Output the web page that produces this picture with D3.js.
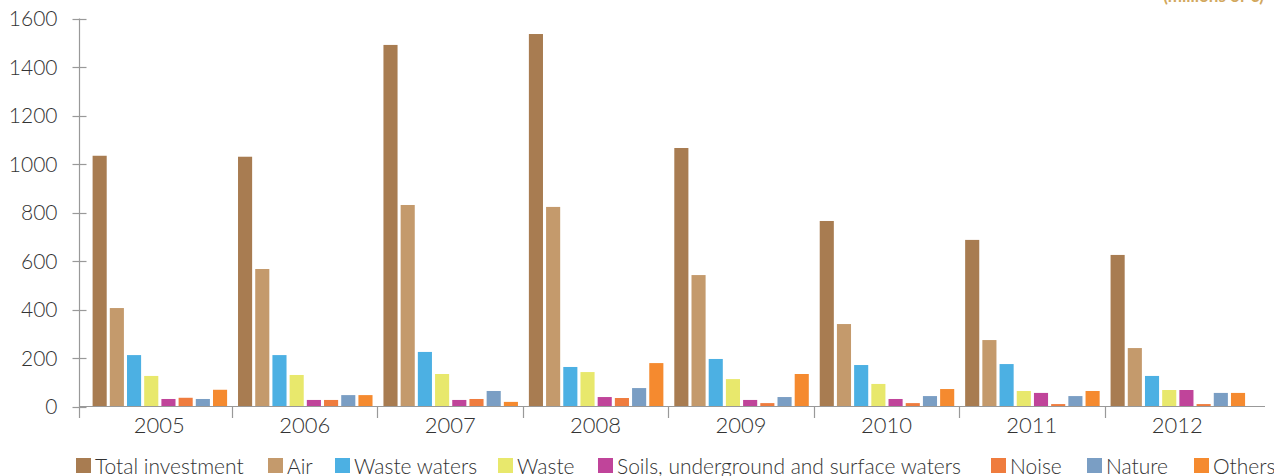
<!DOCTYPE html>
<html><head><meta charset="utf-8">
<script src="https://cdn.jsdelivr.net/npm/d3@7"></script>
<style>
body{margin:0;background:#fff;}
svg text{font-family:Lato,"Open Sans",sans-serif;font-weight:300;}
</style></head>
<body><svg id="c" width="1274" height="476"></svg>
<script>
const years = ["2005","2006","2007","2008","2009","2010","2011","2012"];
const seriesNames = ["Total investment","Air","Waste waters","Waste","Soils, underground and surface waters","Noise","Nature","Others"];
const colors = ["#a87c51","#c49a6c","#4cb0e3","#e8e86c","#c0449a","#ef7c3e","#7a9ec4","#f58a2f"];
const totalInvestment = [1034,1030,1491,1536,1066,765,687,625];
const air = [406,567,831,823,542,340,274,241];
const wasteWaters = [212,212,225,163,196,171,175,126];
const waste = [126,130,134,142,113,93,64,68];
const soils = [31,27,27,39,27,31,56,68];
const noise = [36,27,31,35,14,14,10,10];
const nature = [31,47,64,76,39,43,43,56];
const others = [69,47,19,179,134,72,64,56];
const yTicks = [0,200,400,600,800,1000,1200,1400,1600];
const unitLabel = "(millions of €)";

const series = [totalInvestment,air,wasteWaters,waste,soils,noise,nature,others];
const svg = d3.select("#c");

const y = d3.scaleLinear().domain([0,1600]).range([406.5,18.5]);
const x0 = d3.scaleBand().domain(years).range([86.6,1250]).paddingInner(0).paddingOuter(0);
const x1 = d3.scaleBand().domain(d3.range(series.length)).range([6,140.5]).paddingInner(0.18).paddingOuter(0);

// bars
const g = svg.append("g");
years.forEach((yr,i)=>{
  const gg = g.append("g").attr("transform",`translate(${x0(yr)},0)`);
  gg.selectAll("rect").data(series.map((s,k)=>({k,v:s[i]}))).join("rect")
    .attr("x",d=>x1(d.k)).attr("width",x1.bandwidth())
    .attr("y",d=>y(d.v)).attr("height",d=>y(0)-y(d.v))
    .attr("fill",d=>colors[d.k]);
});

// y axis
const ya = svg.append("g").attr("transform","translate(79.5,0)");
ya.append("line").attr("x1",0).attr("x2",0).attr("y1",y(1600)).attr("y2",418).attr("stroke","#999").attr("stroke-width",1.2);
ya.selectAll("line.t").data(yTicks).join("line").attr("class","t")
  .attr("x1",-7).attr("x2",7).attr("y1",d=>Math.round(y(d))+0.5).attr("y2",d=>Math.round(y(d))+0.5)
  .attr("stroke","#999").attr("stroke-width",1.2);
ya.selectAll("text").data(yTicks).join("text")
  .attr("x",-22).attr("y",d=>y(d)).attr("dy","0.36em").attr("text-anchor","end")
  .attr("font-size",21).attr("fill","#333").text(d=>d);

// x axis
const xa = svg.append("g");
xa.append("line").attr("x1",79).attr("x2",1265).attr("y1",406.5).attr("y2",406.5).attr("stroke","#999").attr("stroke-width",1.2);
xa.selectAll("line.t").data(years.slice(1)).join("line").attr("class","t")
  .attr("x1",d=>Math.round(x0(d))+0.5).attr("x2",d=>Math.round(x0(d))+0.5).attr("y1",406.5).attr("y2",418)
  .attr("stroke","#999").attr("stroke-width",1.2);
xa.selectAll("text").data(years).join("text")
  .attr("x",d=>x0(d)+x0.bandwidth()/2).attr("y",433).attr("text-anchor","middle")
  .attr("font-size",22).attr("fill","#333").text(d=>d);

// unit label (clipped at top, as in the reference)
svg.append("text").attr("x",1264).attr("y",2).attr("text-anchor","end")
  .attr("font-size",17).attr("fill","#d2a85e").style("font-weight",700).text(unitLabel);

// legend
const legX = [76,268,335,498,598,991,1087,1194];
const lg = svg.append("g");
seriesNames.forEach((n,k)=>{
  lg.append("rect").attr("x",legX[k]).attr("y",458).attr("width",15).attr("height",15).attr("fill",colors[k]);
  lg.append("text").attr("x",legX[k]+19).attr("y",473.5).attr("font-size",21).attr("fill","#333").text(n);
});
</script></body></html>
